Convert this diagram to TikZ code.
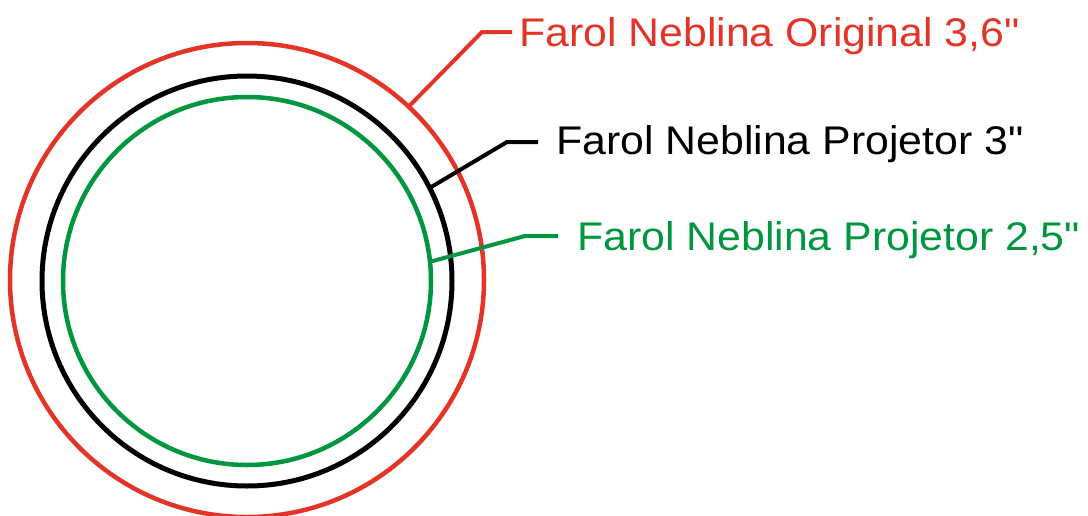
\documentclass[tikz,border=0pt]{standalone}
\usepackage{fontspec}
\usepackage{tikz}
\newfontfamily\farolfont{Liberation Sans}[FakeStretch=1.07]
\definecolor{farolvermelho}{RGB}{228,52,40}
\definecolor{farolverde}{RGB}{0,150,64}
\tikzset{lente/.style={circle,draw,line width=4.5pt,outer sep=0pt,inner sep=0pt},
         rotulo/.style={anchor=west,inner sep=0pt,text height=29pt,text depth=0pt,
                        font=\farolfont\fontsize{40}{48}\selectfont},
         guia/.style={line width=4pt}}

\begin{document}
\begin{tikzpicture}[x=1pt,y=-1pt]
        \useasboundingbox (0,0) rectangle (1088,515);
        \node[lente,draw=farolvermelho,minimum size=474](orig)at(247,280){};
        \node[lente,draw=black,line width=5pt,minimum size=410](proj3)at(247,281){};
        \node[lente,draw=farolverde,minimum size=368](proj25)at(247,281){};
        \node[rotulo,text=farolvermelho](torig)at(519,32){Farol Neblina Original 3,6"};
        \node[rotulo](tproj3)at(556,140){Farol Neblina Projetor 3"};
        \node[rotulo,text=farolverde](tproj25)at(577,236){Farol Neblina Projetor 2,5"};
        \coordinate(korig)at(482,32);
        \coordinate(kproj3)at(507,142);
        \coordinate(kproj25)at(525,236);
        \draw[guia,farolvermelho](orig.47)--(korig)--([xshift=-7]torig.west);
        \draw[guia](proj3.27)--(kproj3)--([xshift=-18,yshift=-2]tproj3.west);
        \draw[guia,farolverde](proj25.6)--(kproj25)--([xshift=-19]tproj25.west);
    \end{tikzpicture}
\end{document}
